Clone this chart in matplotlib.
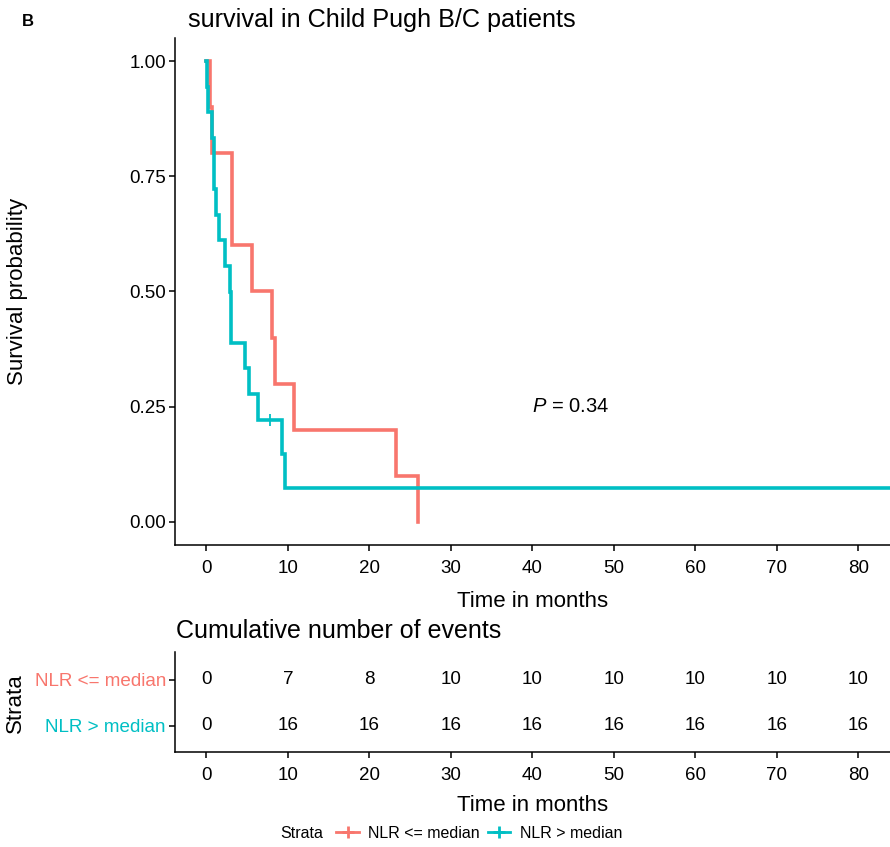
import numpy as np
import matplotlib
matplotlib.use("Agg")
import matplotlib.pyplot as plt
from matplotlib.lines import Line2D

plt.rcParams['font.family'] = ['Liberation Sans', 'DejaVu Sans']
plt.rcParams['mathtext.fontset'] = 'custom'
plt.rcParams['mathtext.it'] = 'Liberation Sans:italic'
plt.rcParams['mathtext.rm'] = 'Liberation Sans'

# ===========================
# data
# ===========================
groups = ["NLR <= median", "NLR > median"]
colors = ["#F8766D", "#00BFC4"]

# event / censoring times (months)
low_events = [0.5, 0.7, 3.1, 3.2, 5.6, 8.0, 8.4, 10.8, 23.3, 26.0]
low_censor = []
high_events = [0.05, 0.2, 0.7, 0.9, 0.9, 1.2, 1.6, 2.3, 2.9, 3.0, 3.0,
               4.8, 5.2, 6.3, 9.3, 9.6]
high_censor = [7.85, 95.0]

table_times = [0, 10, 20, 30, 40, 50, 60, 70, 80]
low_cum = [0, 7, 8, 10, 10, 10, 10, 10, 10]
high_cum = [0, 16, 16, 16, 16, 16, 16, 16, 16]

p_label = "0.34"


def km(events, censor):
    ev = np.array(events, dtype=float)
    ce = np.array(censor, dtype=float)
    times = np.unique(np.concatenate([ev, ce]))
    n = len(ev) + len(ce)
    s = 1.0
    xs, ys = [0.0], [1.0]
    cens_pts = []
    for t in times:
        d = np.sum(ev == t)
        c = np.sum(ce == t)
        if d > 0:
            s = s * (n - d) / n
            xs.append(t)
            ys.append(s)
        if c > 0:
            cens_pts.append((t, s))
        n -= d + c
    xs.append(max(times))
    ys.append(s)
    return np.array(xs), np.array(ys), cens_pts


fig = plt.figure(figsize=(8.9, 8.47), dpi=100)
W, H = 890, 847


def fx(px):
    return px / W


def fy(py):
    return 1 - py / H


tick_fs = 13.5
cell_fs = 13.6
lab_fs = 16
title_fs = 18.2

# ===========================
# survival curves
# ===========================
ax = fig.add_axes([fx(175), fy(545), fx(890) - fx(175), fy(38) - fy(545)])
for ev, ce, col in [(low_events, low_censor, colors[0]),
                    (high_events, high_censor, colors[1])]:
    xs, ys, cp = km(ev, ce)
    ax.step(xs, ys, where='post', color=col, lw=2.6, solid_joinstyle='miter')
    for t, s in cp:
        ax.plot(t, s, marker='+', color=col, ms=9, mew=1.3)

ax.set_xlim(-3.85, 83.9)
ax.set_ylim(-0.05, 1.05)
ax.set_xticks(table_times)
ax.set_yticks([0, 0.25, 0.5, 0.75, 1.0])
ax.set_yticklabels(["0.00", "0.25", "0.50", "0.75", "1.00"])
ax.text(40, 0.25, r"$\it{P}$ = " + p_label, fontsize=14.5, va='center', ha='left')

fig.text(fx(18), fy(291), "Survival probability", fontsize=lab_fs, rotation=90,
         ha='center', va='center')
fig.text(fx(188), fy(20), "survival in Child Pugh B/C patients", fontsize=title_fs,
         ha='left', va='center')
fig.text(fx(22), fy(22), "B", fontsize=12, fontweight='bold', ha='left', va='center')

# ===========================
# risk table
# ===========================
tb = fig.add_axes([fx(175), fy(752), fx(890) - fx(175), fy(652) - fy(752)])
for i, t in enumerate(table_times):
    tb.text(t, 1, str(low_cum[i]), ha='center', va='center', fontsize=cell_fs)
    tb.text(t, 0, str(high_cum[i]), ha='center', va='center', fontsize=cell_fs)
tb.set_xlim(-3.85, 83.9)
tb.set_ylim(-0.57, 1.6)
tb.set_xticks(table_times)
tb.set_yticks([0, 1])
tb.set_yticklabels([groups[1], groups[0]])
fig.text(fx(176), fy(631), "Cumulative number of events", fontsize=title_fs - 0.2,
         ha='left', va='center')
fig.text(fx(15), fy(703), "Strata", fontsize=lab_fs, rotation=90, ha='center', va='center')

for a in [ax, tb]:
    for sp in ['top', 'right']:
        a.spines[sp].set_visible(False)
    a.spines['left'].set_linewidth(1.1)
    a.spines['bottom'].set_linewidth(1.1)
    a.tick_params(axis='both', labelsize=tick_fs, length=4, width=1.1, pad=2.5,
                  colors='black')
    a.tick_params(axis='x', pad=7)
tb.tick_params(axis='y', labelsize=cell_fs)
for lab, col in zip(tb.get_yticklabels(), [colors[1], colors[0]]):
    lab.set_color(col)

ax.set_xlabel("Time in months", fontsize=lab_fs, labelpad=10)
tb.set_xlabel("Time in months", fontsize=lab_fs, labelpad=8)

# ===========================
# legend
# ===========================
fig.text(fx(280), fy(833), "Strata", fontsize=11.5, ha='left', va='center')
handles = [Line2D([], [], color=c, lw=2, marker='+', ms=9, mew=2) for c in colors]
fig.legend(handles, groups, loc='center left', bbox_to_anchor=(fx(322), fy(833)),
           ncol=2, frameon=False, fontsize=11.5, handlelength=1.4,
           handletextpad=0.6, columnspacing=0.5, borderpad=0.4)

fig.savefig("out.png", dpi=100)
